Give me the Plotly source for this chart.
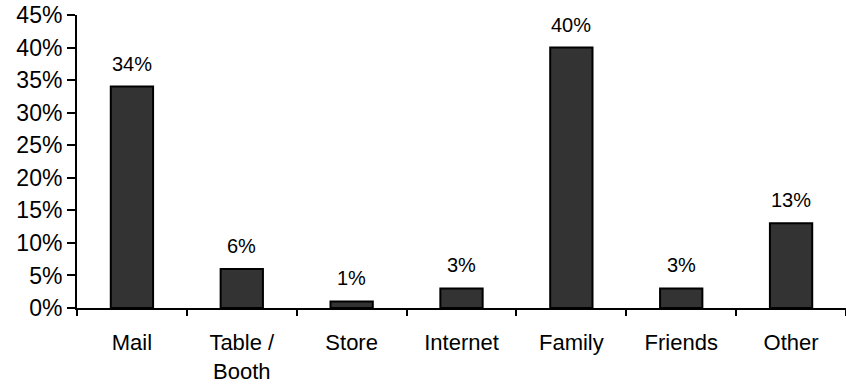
import plotly.graph_objects as go

# Survey responses: where respondents first heard about us
categories = ["Mail", "Table /<br>Booth", "Store", "Internet", "Family", "Friends", "Other"]
shares = [34, 6, 1, 3, 40, 3, 13]
y_ticks = [0, 5, 10, 15, 20, 25, 30, 35, 40, 45]

FONT = "Liberation Sans, Arial, sans-serif"

fig = go.Figure(
    go.Bar(
        x=categories,
        y=shares,
        marker=dict(color="#333333", line=dict(color="#000000", width=2)),
        hoverinfo="skip",
    )
)

# value labels above each bar
for cat, val in zip(categories, shares):
    fig.add_annotation(
        x=cat, y=val, text=f"{val}%", showarrow=False,
        yanchor="bottom", yshift=10,
        font=dict(family=FONT, size=20, color="#000000"),
    )

fig.update_layout(
    width=846, height=386,
    margin=dict(l=77, r=0, t=15, b=78),
    paper_bgcolor="white", plot_bgcolor="white",
    bargap=0.615,
    showlegend=False,
    font=dict(family=FONT, size=22, color="#000000"),
)
fig.update_xaxes(
    showline=True, linecolor="#000000", linewidth=2,
    ticks="outside", tickson="boundaries", ticklen=6, tickwidth=2, tickcolor="#000000",
    showgrid=False, ticklabelstandoff=14,
    tickfont=dict(family=FONT, size=22),
)
fig.update_yaxes(
    range=[0, 45], tickvals=y_ticks, ticktext=[f"{v}%" for v in y_ticks],
    showline=True, linecolor="#000000", linewidth=2,
    ticks="outside", ticklen=8, tickwidth=2, tickcolor="#000000",
    showgrid=False, zeroline=False, ticklabelstandoff=0,
    tickfont=dict(family=FONT, size=23),
)

fig.write_html("out.html")
